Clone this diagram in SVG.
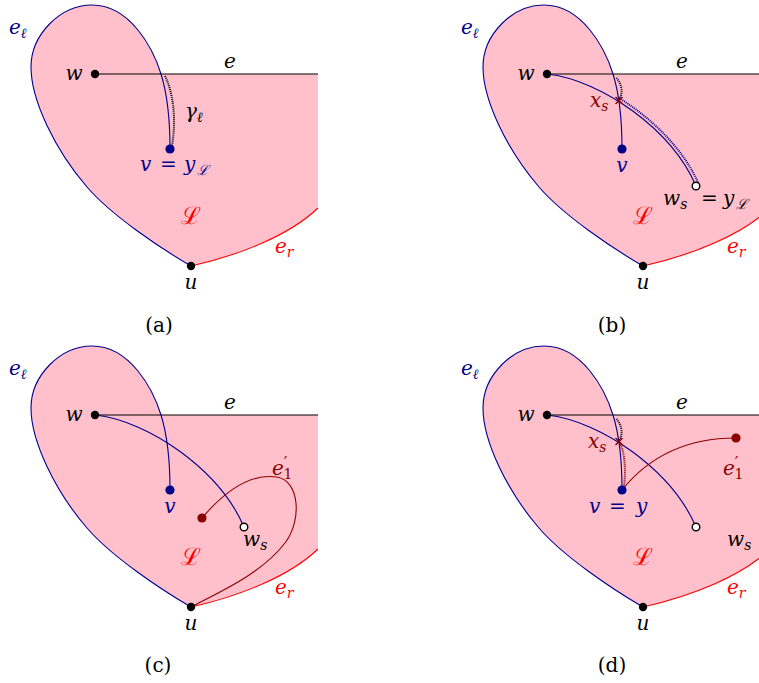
<svg xmlns="http://www.w3.org/2000/svg" width="759" height="683" viewBox="0 0 759 683">
<style>
.fill{fill:#ffc0cb;stroke:none}
.el{fill:none;stroke:#00008b;stroke-width:1.1}
.er{fill:none;stroke:#ff0000;stroke-width:1.1}
.eline{fill:none;stroke:#000;stroke-width:1.1}
.blue{fill:none;stroke:#00008b;stroke-width:1.1}
.dred{fill:none;stroke:#8b0000;stroke-width:1.1}
.dotk{fill:none;stroke:#000;stroke-width:2;stroke-dasharray:1 1}
.dotb{fill:none;stroke:#00008b;stroke-width:2;stroke-dasharray:1 1}
.dotr{fill:none;stroke:#8b0000;stroke-width:2;stroke-dasharray:1 1}
.xs{fill:none;stroke:#8b0000;stroke-width:1.5}
.m{font-family:"DejaVu Serif",serif;font-style:italic;font-size:20px}
.cap{font-family:"DejaVu Serif",serif;font-size:20px}
.big{font-size:24px;font-style:normal}
.up{font-style:normal}
.sub{font-size:14px}
.pr{font-size:16px;font-style:normal}
.tb{fill:#00008b}
.tr{fill:#ff0000}
.td{fill:#8b0000}
.tk{fill:#000}
</style>
<defs>
<path id="region" d="M161,74 C153,48 130,5 92,5 C60,5 31,35 31,67 C31,100 55,150 87,187 C111,215 160,248 191,266 C240,255 290,235 318,208 L318,74 Z"/>
<path id="elpath" d="M170,149 C170,115 166,90 161,74 C153,48 130,5 92,5 C60,5 31,35 31,67 C31,100 55,150 87,187 C111,215 160,248 191,266"/>
<path id="erpath" d="M191,266 C240,255 290,235 318,208"/>
<path id="epath" d="M95,74 L318,74"/>
<path id="wws" d="M95,74 C150,80 220,130 244,186"/>
<path id="xmark" d="M-3.5,-3.5 L3.5,3.5 M-3.5,3.5 L3.5,-3.5"/>
</defs>

<!-- Panel (a) -->
<g id="panel-a">
<use href="#region" class="fill"/>
<g id="a-connectors">
<use href="#epath" class="eline"/>
<use href="#elpath" class="el"/>
<use href="#erpath" class="er"/>
<path class="dotk" d="M165,76 C172,90 177,115 172,146"/>
</g>
<g id="a-w"><circle cx="95" cy="74" r="4.2" fill="#000"/></g>
<g id="a-v"><circle cx="170" cy="149" r="4.6" fill="#00008b"/></g>
<g id="a-u"><circle cx="191" cy="266" r="4.2" fill="#000"/></g>
<g id="a-labels">
<text class="m tb" x="9" y="34">e<tspan class="sub" dy="4">ℓ</tspan></text>
<text class="m tk" x="74" y="80" text-anchor="middle">w</text>
<text class="m tk" x="230" y="68" text-anchor="middle">e</text>
<text class="m tk" x="185" y="118">γ<tspan class="sub" dy="4">ℓ</tspan></text>
<text class="m tb" x="140" y="171">v<tspan class="up" x="160">=</tspan><tspan x="184">y</tspan><tspan class="sub" x="197" dy="4">ℒ</tspan></text>
<text class="m tr big" x="191" y="224" text-anchor="middle">ℒ</text>
<text class="m tr" x="275" y="253">e<tspan class="sub" dy="4">r</tspan></text>
<text class="m tk" x="191" y="289" text-anchor="middle">u</text>
<text class="cap" x="159" y="332" text-anchor="middle">(a)</text>
</g>
</g>

<!-- Panel (b) -->
<g id="panel-b" transform="translate(452,0)">
<use href="#region" class="fill"/>
<g id="b-connectors">
<use href="#epath" class="eline"/>
<use href="#elpath" class="el"/>
<use href="#erpath" class="er"/>
<use href="#wws" class="blue"/>
<path class="dotk" d="M164.5,78 C169,83 172,92 167,100"/>
<path class="dotb" d="M167,98 C201,119 232,150 246.5,183.5"/>
</g>
<g id="b-w"><circle cx="95" cy="74" r="4.2" fill="#000"/></g>
<g id="b-v"><circle cx="170" cy="149" r="4.6" fill="#00008b"/></g>
<g id="b-u"><circle cx="191" cy="266" r="4.2" fill="#000"/></g>
<g id="b-ws"><circle cx="244" cy="186" r="3.8" fill="#fff" stroke="#000" stroke-width="1.4"/></g>
<g id="b-xs"><use href="#xmark" class="xs" x="167" y="100.5"/></g>
<g id="b-labels">
<text class="m tb" x="9" y="34">e<tspan class="sub" dy="4">ℓ</tspan></text>
<text class="m tk" x="74" y="80" text-anchor="middle">w</text>
<text class="m tk" x="230" y="68" text-anchor="middle">e</text>
<text class="m td" x="138" y="107">x<tspan class="sub" dy="4">s</tspan></text>
<text class="m tb" x="170" y="172" text-anchor="middle">v</text>
<text class="m tk" x="211" y="205">w<tspan class="sub" dy="4">s</tspan><tspan class="up" x="249" dy="-4">=</tspan><tspan x="271">y</tspan><tspan class="sub" x="284" dy="4">ℒ</tspan></text>
<text class="m tr big" x="191" y="224" text-anchor="middle">ℒ</text>
<text class="m tr" x="275" y="253">e<tspan class="sub" dy="4">r</tspan></text>
<text class="m tk" x="191" y="289" text-anchor="middle">u</text>
<text class="cap" x="160" y="332" text-anchor="middle">(b)</text>
</g>
</g>

<!-- Panel (c) -->
<g id="panel-c" transform="translate(0,341)">
<use href="#region" class="fill"/>
<g id="c-connectors">
<use href="#epath" class="eline"/>
<use href="#elpath" class="el"/>
<use href="#erpath" class="er"/>
<use href="#wws" class="blue"/>
<path class="dred" d="M202,177 C225,150 250,132 277,136 C300,140 302,180 285,202 C262,232 222,250 191,266"/>
</g>
<g id="c-w"><circle cx="95" cy="74" r="4.2" fill="#000"/></g>
<g id="c-v"><circle cx="170" cy="149" r="4.6" fill="#00008b"/></g>
<g id="c-u"><circle cx="191" cy="266" r="4.2" fill="#000"/></g>
<g id="c-ws"><circle cx="244" cy="186" r="3.8" fill="#fff" stroke="#000" stroke-width="1.4"/></g>
<g id="c-e1"><circle cx="202" cy="177" r="4.6" fill="#8b0000"/></g>
<g id="c-labels">
<text class="m tb" x="9" y="34">e<tspan class="sub" dy="4">ℓ</tspan></text>
<text class="m tk" x="74" y="80" text-anchor="middle">w</text>
<text class="m tk" x="230" y="68" text-anchor="middle">e</text>
<text class="m tb" x="170" y="172" text-anchor="middle">v</text>
<text class="m td" x="272" y="134">e<tspan class="pr" dy="-7">′</tspan><tspan class="sub up" dx="-4" dy="11">1</tspan></text>
<text class="m tk" x="243" y="205">w<tspan class="sub" dy="4">s</tspan></text>
<text class="m tr big" x="191" y="224" text-anchor="middle">ℒ</text>
<text class="m tr" x="275" y="253">e<tspan class="sub" dy="4">r</tspan></text>
<text class="m tk" x="191" y="289" text-anchor="middle">u</text>
<text class="cap" x="158" y="331" text-anchor="middle">(c)</text>
</g>
</g>

<!-- Panel (d) -->
<g id="panel-d" transform="translate(452,341)">
<use href="#region" class="fill"/>
<g id="d-connectors">
<use href="#epath" class="eline"/>
<use href="#elpath" class="el"/>
<use href="#erpath" class="er"/>
<use href="#wws" class="blue"/>
<path class="dred" d="M170,149 C195,118 230,97 284,97"/>
<path class="dotk" d="M164.5,78 C169,83 172,92 167,100"/>
<path class="dotr" d="M168,102 C173,112 174,130 172,146"/>
</g>
<g id="d-w"><circle cx="95" cy="74" r="4.2" fill="#000"/></g>
<g id="d-v"><circle cx="170" cy="149" r="4.6" fill="#00008b"/></g>
<g id="d-u"><circle cx="191" cy="266" r="4.2" fill="#000"/></g>
<g id="d-ws"><circle cx="244" cy="186" r="3.8" fill="#fff" stroke="#000" stroke-width="1.4"/></g>
<g id="d-e1"><circle cx="284" cy="97" r="4.6" fill="#8b0000"/></g>
<g id="d-xs"><use href="#xmark" class="xs" x="167" y="100.5"/></g>
<g id="d-labels">
<text class="m tb" x="9" y="34">e<tspan class="sub" dy="4">ℓ</tspan></text>
<text class="m tk" x="74" y="80" text-anchor="middle">w</text>
<text class="m tk" x="230" y="68" text-anchor="middle">e</text>
<text class="m td" x="136" y="107">x<tspan class="sub" dy="4">s</tspan></text>
<text class="m td" x="271" y="134">e<tspan class="pr" dy="-7">′</tspan><tspan class="sub up" dx="-4" dy="11">1</tspan></text>
<text class="m tb" x="137" y="172">v<tspan class="up" x="157">=</tspan><tspan x="184">y</tspan></text>
<text class="m tk" x="275" y="205">w<tspan class="sub" dy="4">s</tspan></text>
<text class="m tr big" x="191" y="224" text-anchor="middle">ℒ</text>
<text class="m tr" x="275" y="253">e<tspan class="sub" dy="4">r</tspan></text>
<text class="m tk" x="191" y="289" text-anchor="middle">u</text>
<text class="cap" x="160" y="331" text-anchor="middle">(d)</text>
</g>
</g>
</svg>
